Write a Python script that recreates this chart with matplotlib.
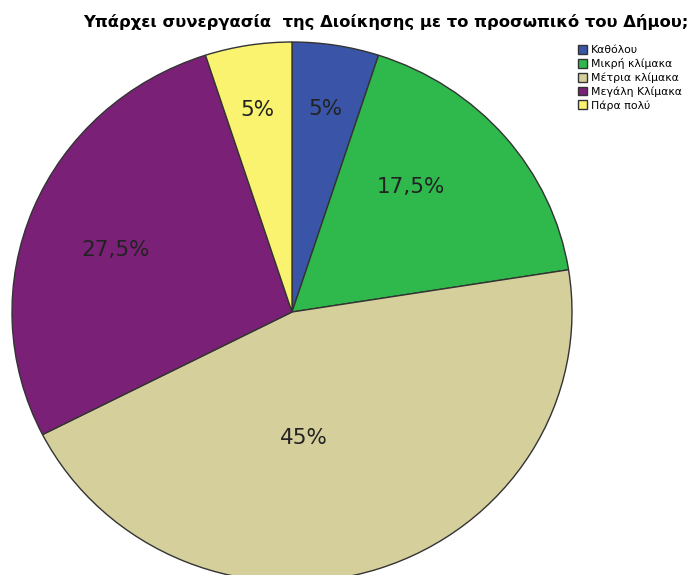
import numpy as np
import matplotlib.pyplot as plt

labels = ['Καθόλου', 'Μικρή κλίμακα', 'Μέτρια κλίμακα', 'Μεγάλη Κλίμακα', 'Πάρα πολύ']
shares = [5, 17.5, 45, 27.5, 5]
pct_text = ['5%', '17,5%', '45%', '27,5%', '5%']
colors = ['#3a55a8', '#2fb94c', '#d5cf9c', '#7a2177', '#f9f36f']

# label placement: radial fraction and angular nudge (degrees)
label_r = [0.76, 0.63, 0.47, 0.67, 0.76]
label_da = [0, 7, -13, 2.5, 0.5]

fig = plt.figure(figsize=(6.9, 5.75), dpi=100)
ax = fig.add_axes([0, 0, 1, 1])

# pie is drawn slightly wider than tall
xstretch = 280 / 270
cx, cy, R = 292 / xstretch, 575 - 312, 270
wedges, _ = ax.pie(shares, colors=colors, startangle=90, counterclock=False,
                   center=(cx, cy), radius=R, frame=True,
                   wedgeprops=dict(edgecolor='#333333', linewidth=1.0))

for w, txt, r, da in zip(wedges, pct_text, label_r, label_da):
    mid = np.deg2rad((w.theta1 + w.theta2) / 2 + da)
    ax.text(cx + r * R * np.cos(mid), cy + r * R * np.sin(mid), txt,
            ha='center', va='center', fontsize=15.5, color='#222222')

ax.set_aspect('auto')
ax.set_xlim(0, 690 / xstretch)
ax.set_ylim(0, 575)
ax.axis('off')

fig.text(0.12, 0.962, 'Υπάρχει συνεργασία  της Διοίκησης με το προσωπικό του Δήμου;',
         fontsize=11.8, fontweight='bold', ha='left', va='center')

leg = fig.legend(wedges, labels, loc='upper left', bbox_to_anchor=(0.827, 0.935),
                 frameon=False, handlelength=0.85, handleheight=0.85,
                 labelspacing=0.3, handletextpad=0.35, borderpad=0.2,
                 prop=dict(size=7.8))
for h in leg.legend_handles:
    h.set_edgecolor('#333333')

fig.savefig('out.png', dpi=100, facecolor='white')
